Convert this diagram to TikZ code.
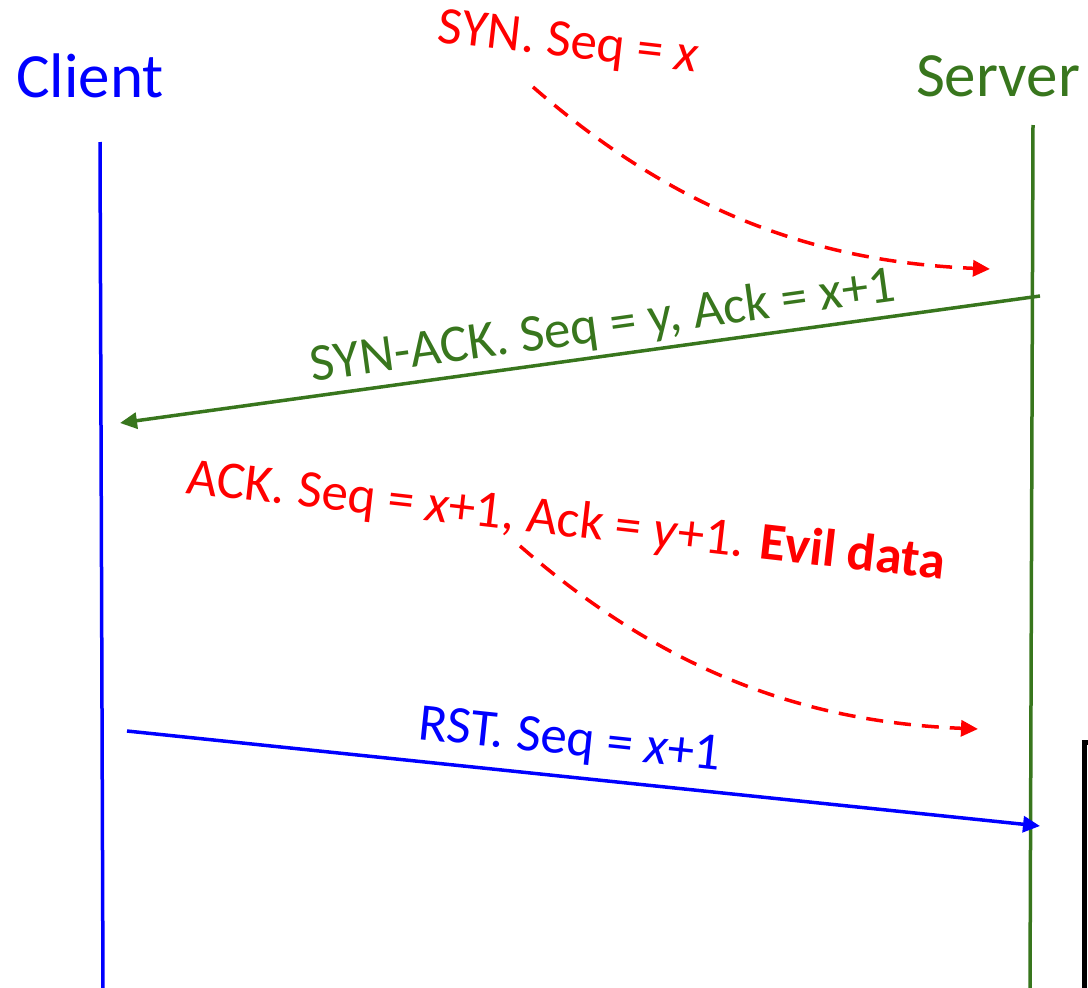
\documentclass[tikz,border=0pt]{standalone}
\usepackage{fontspec}
\setmainfont{Carlito}
\usetikzlibrary{arrows.meta}
\definecolor{srvgreen}{RGB}{56,118,29}
\begin{document}
\begin{tikzpicture}[x=1pt,y=-1pt,
  lifeline/.style={line width=3.5pt},
  msg/.style={line width=3.5pt,-{Triangle[length=17pt,width=16pt]}},
  evilmsg/.style={msg,red,dash pattern=on 17pt off 11pt},
  actor/.style={inner sep=0pt,font=\fontsize{63}{70}\selectfont},
  msglabel/.style={inner sep=0pt,font=\fontsize{53}{60}\selectfont}]
\useasboundingbox (0,0) rectangle (1088,988);

% actors and lifelines
\node[actor,blue] (client) at (90,76) {Client};
\node[actor,srvgreen] (server) at (998,76) {Server};
\coordinate (ctop) at (100,142);
\coordinate (cbot) at (103,992);
\coordinate (stop) at (1033,125);
\coordinate (sbot) at (1030,992);
\draw[lifeline,blue] (ctop) -- (cbot);
\draw[lifeline,srvgreen] (stop) -- (sbot);

% partial frame at the right edge
\draw[line width=5pt,black] (1084,1000) -- (1084,742) -- (1100,742);

% SYN (forged)
\node[msglabel,red,rotate=-6.5] (syn) at (568,44) {SYN. Seq = \textit{x}};
\coordinate (syn-a) at (533,87);
\coordinate (syn-b) at (990,269);
\draw[evilmsg] (syn-a) .. controls (680,215) and (820,262) .. (syn-b);

% SYN-ACK
\coordinate (sa-a) at (1040,296);
\coordinate (sa-b) at (120,423);
\draw[msg,srvgreen] (sa-a) -- (sa-b);
\node[msglabel,srvgreen,rotate=7.9] (synack) at (603,327) {SYN-ACK. Seq = y, Ack = x+1};

% ACK with data (forged)
\node[msglabel,red,rotate=-6.5] (ack) at (566,522) {ACK. Seq = \textit{x}+1, Ack = \textit{y}+1. \textbf{Evil data}};
\coordinate (ack-a) at (520,546);
\coordinate (ack-b) at (978,729);
\draw[evilmsg] (ack-a) .. controls (667,674) and (808,722) .. (ack-b);

% RST
\coordinate (rst-a) at (127,731);
\coordinate (rst-b) at (1040,826);
\draw[msg,blue] (rst-a) -- (rst-b);
\node[msglabel,blue,rotate=-6] (rst) at (570,742) {RST. Seq = \textit{x}+1};
\end{tikzpicture}
\end{document}
